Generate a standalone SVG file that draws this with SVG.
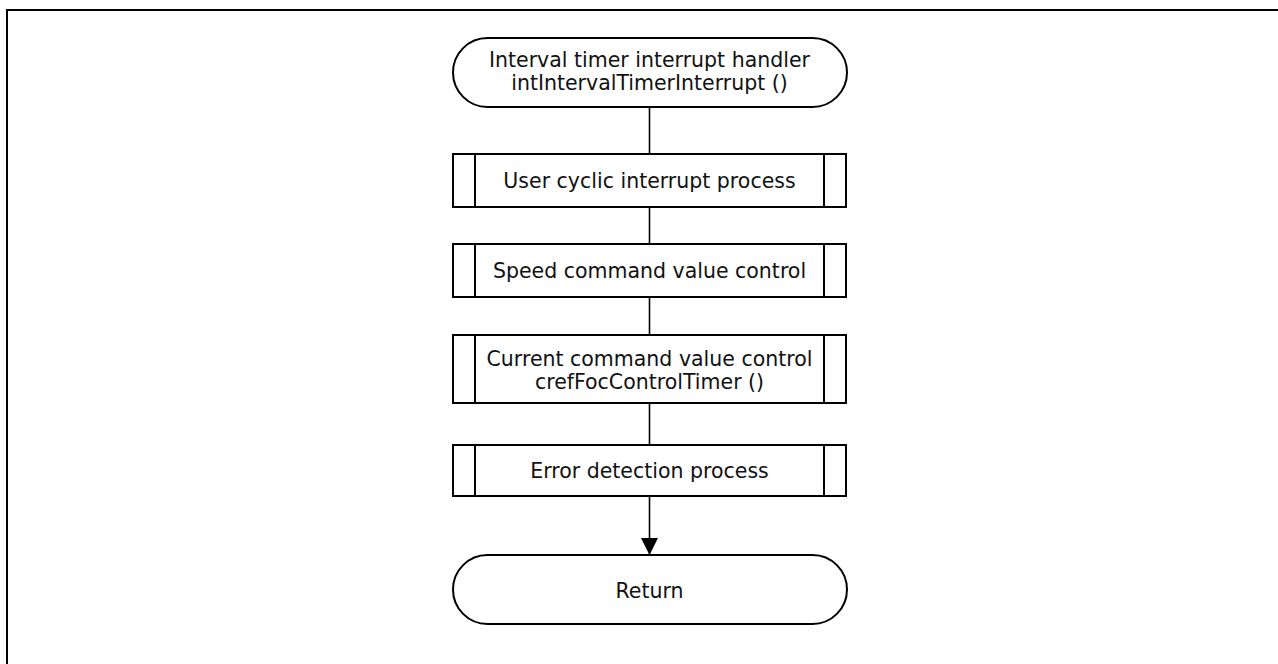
<svg xmlns="http://www.w3.org/2000/svg" width="1278" height="664" viewBox="0 0 1278 664">
<style>
.shape{fill:#fff;stroke:#000;stroke-width:2}
.bar{fill:none;stroke:#000;stroke-width:2}
.conn{fill:none;stroke:#000;stroke-width:1.6}
text{font-family:"DejaVu Sans",Verdana,sans-serif;font-size:20.5px;fill:#111;text-anchor:middle}
</style>
<defs>
<marker id="arr" markerWidth="17" markerHeight="17" refX="17" refY="8.5" orient="auto" markerUnits="userSpaceOnUse">
<path d="M0,0 L17,8.5 L0,17 Z" fill="#000"/>
</marker>
</defs>
<rect width="1278" height="664" fill="#fff"/>
<path d="M7,664 V10 H1278" fill="none" stroke="#000" stroke-width="2"/>
<g id="connectors">
<line class="conn" x1="649.5" y1="107" x2="649.5" y2="154"/>
<line class="conn" x1="649.5" y1="207" x2="649.5" y2="244"/>
<line class="conn" x1="649.5" y1="297" x2="649.5" y2="335"/>
<line class="conn" x1="649.5" y1="403" x2="649.5" y2="445"/>
<line class="conn" x1="649.5" y1="496" x2="649.5" y2="555" marker-end="url(#arr)"/>
</g>
<g id="start">
<rect class="shape" x="453" y="38" width="394" height="69" rx="34.5"/>
<text x="649.5" y="67">Interval timer interrupt handler</text>
<text x="649.5" y="90">intIntervalTimerInterrupt ()</text>
</g>
<g id="user-cyclic">
<rect class="shape" x="453" y="154" width="393" height="53"/>
<path class="bar" d="M475,154 V207 M824,154 V207"/>
<text x="649.5" y="187.5">User cyclic interrupt process</text>
</g>
<g id="speed">
<rect class="shape" x="453" y="244" width="393" height="53"/>
<path class="bar" d="M475,244 V297 M824,244 V297"/>
<text x="649.5" y="278">Speed command value control</text>
</g>
<g id="current">
<rect class="shape" x="453" y="335" width="393" height="68"/>
<path class="bar" d="M475,335 V403 M824,335 V403"/>
<text x="649.5" y="365.5">Current command value control</text>
<text x="649.5" y="388.5">crefFocControlTimer ()</text>
</g>
<g id="error">
<rect class="shape" x="453" y="445" width="393" height="51"/>
<path class="bar" d="M475,445 V496 M824,445 V496"/>
<text x="649.5" y="477.5">Error detection process</text>
</g>
<g id="return">
<rect class="shape" x="453" y="555" width="394" height="69" rx="34.5"/>
<text x="649.5" y="597.5">Return</text>
</g>
</svg>
